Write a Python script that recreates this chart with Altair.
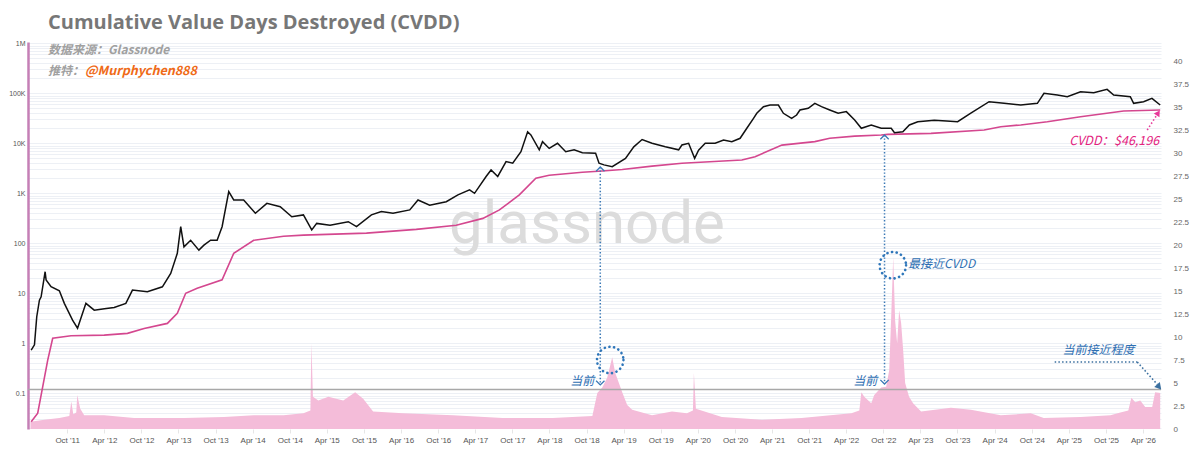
import altair as alt
import pandas as pd

# ---------------- data ----------------
# (decimal year, BTC price USD)
PRICE = [
    (2011.263, 0.73), (2011.307, 0.93), (2011.338, 3.4), (2011.374, 7.3), (2011.397, 8.5),
    (2011.451, 27), (2011.464, 18.5), (2011.531, 13.5), (2011.643, 11.2), (2011.71, 6.3),
    (2011.821, 2.9), (2011.888, 2.0), (2012.001, 6.3), (2012.113, 4.6), (2012.25, 4.9),
    (2012.381, 5.2), (2012.538, 6.3), (2012.627, 11.6), (2012.828, 10.7), (2013.03, 13.5),
    (2013.142, 25), (2013.231, 63), (2013.277, 215), (2013.321, 85), (2013.411, 115),
    (2013.522, 73), (2013.59, 92), (2013.68, 115), (2013.768, 115), (2013.835, 215),
    (2013.925, 1077), (2013.992, 735), (2014.126, 735), (2014.284, 398), (2014.439, 630),
    (2014.619, 540), (2014.775, 340), (2014.932, 370), (2015.044, 185), (2015.111, 250),
    (2015.291, 230), (2015.537, 270), (2015.648, 215), (2015.849, 370), (2015.983, 430),
    (2016.14, 400), (2016.365, 465), (2016.476, 735), (2016.633, 580), (2016.856, 680),
    (2017.013, 930), (2017.17, 1170), (2017.237, 1000), (2017.393, 2170), (2017.46, 2930),
    (2017.55, 2170), (2017.662, 4300), (2017.752, 4000), (2017.863, 6800), (2017.953, 17000),
    (2017.997, 14700), (2018.11, 7400), (2018.154, 10800), (2018.244, 7900), (2018.356, 10000),
    (2018.467, 6800), (2018.58, 7400), (2018.691, 6500), (2018.87, 6300), (2018.916, 4000),
    (2018.983, 3700), (2019.094, 3400), (2019.273, 5000), (2019.385, 8500), (2019.497, 11900),
    (2019.631, 10000), (2019.81, 8500), (2019.99, 7400), (2020.034, 9250), (2020.124, 10000),
    (2020.205, 5000), (2020.258, 7300), (2020.347, 10000), (2020.481, 10000), (2020.594, 11600),
    (2020.705, 10800), (2020.817, 12600), (2020.907, 20000), (2020.997, 31600), (2021.041, 39800),
    (2021.131, 54000), (2021.22, 58300), (2021.332, 58300), (2021.40, 39800), (2021.511, 31600),
    (2021.578, 36800), (2021.623, 46400), (2021.735, 50100), (2021.824, 63000), (2021.914, 54000),
    (2022.025, 46400), (2022.138, 39800), (2022.249, 43000), (2022.361, 29300), (2022.451, 20000),
    (2022.585, 23300), (2022.719, 20000), (2022.854, 20000), (2022.898, 16300), (2023.011, 17000),
    (2023.099, 23300), (2023.212, 27000), (2023.435, 29000), (2023.60, 28000), (2023.75, 27000),
    (2023.928, 40000), (2024.174, 68000), (2024.375, 63000), (2024.599, 58400), (2024.823, 63000),
    (2024.912, 100000), (2025.092, 92500), (2025.226, 85500), (2025.405, 107000), (2025.583, 103000),
    (2025.763, 120000), (2025.852, 92500), (2026.076, 85500), (2026.121, 63000), (2026.255, 68000),
    (2026.368, 79000), (2026.479, 58400),
]

# (decimal year, CVDD USD)
CVDD = [
    (2011.263, 0.027), (2011.351, 0.04), (2011.418, 0.135), (2011.486, 0.46), (2011.553, 1.26),
    (2011.80, 1.42), (2012.247, 1.46), (2012.56, 1.58), (2012.784, 1.98), (2013.097, 2.5),
    (2013.231, 4.0), (2013.344, 10), (2013.499, 12.6), (2013.835, 18.6), (2013.992, 63),
    (2014.261, 115), (2014.664, 138), (2014.932, 146), (2015.782, 160), (2016.453, 190),
    (2016.99, 230), (2017.349, 315), (2017.573, 465), (2017.841, 930), (2018.064, 2000),
    (2018.244, 2300), (2018.691, 2630), (2018.96, 2800), (2019.229, 3000), (2019.631, 3500),
    (2020.034, 4000), (2020.84, 4650), (2021.018, 5400), (2021.38, 9200), (2021.824, 10800),
    (2022.025, 12600), (2022.361, 13900), (2022.719, 14700), (2022.809, 15100), (2023.391, 15800),
    (2024.107, 18400), (2024.331, 21500), (2024.599, 23300), (2024.957, 27000), (2025.405, 34000),
    (2025.986, 44400), (2026.479, 46196),
]

# (decimal year, closeness ratio on right axis)
RATIO = [
    (2011.253, 0.8), (2011.441, 1.0), (2011.643, 1.2), (2011.777, 1.4), (2011.804, 3.0),
    (2011.831, 1.6), (2011.871, 1.8), (2011.884, 3.7), (2011.925, 2.2), (2011.978, 1.5),
    (2012.247, 1.5), (2012.65, 1.2), (2013.321, 1.2), (2013.858, 1.3), (2014.261, 1.5),
    (2014.664, 1.5), (2014.932, 1.7), (2015.026, 2.0), (2015.04, 9.3), (2015.06, 3.5),
    (2015.133, 3.1), (2015.268, 3.5), (2015.469, 3.1), (2015.63, 4.0), (2015.738, 3.3),
    (2015.872, 1.9), (2016.275, 1.7), (2016.946, 1.5), (2017.617, 1.2), (2018.289, 1.2),
    (2018.826, 1.4), (2018.893, 3.9), (2018.96, 4.5), (2019.027, 5.6), (2019.094, 7.8),
    (2019.135, 6.1), (2019.229, 4.0), (2019.296, 2.6), (2019.363, 2.1), (2019.631, 1.5),
    (2019.9, 1.9), (2020.101, 1.7), (2020.182, 2.0), (2020.195, 6.1), (2020.222, 2.2),
    (2020.571, 1.3), (2021.108, 1.0), (2021.645, 1.2), (2022.317, 1.7), (2022.424, 2.0),
    (2022.451, 4.0), (2022.491, 3.5), (2022.585, 2.8), (2022.625, 3.7), (2022.719, 4.5),
    (2022.786, 4.6), (2022.827, 6.4), (2022.854, 12.2), (2022.881, 18.7), (2022.907, 11.8),
    (2022.934, 9.3), (2022.961, 12.9), (2022.988, 11.5), (2023.015, 8.6), (2023.042, 5.0),
    (2023.095, 3.5), (2023.149, 2.8), (2023.257, 1.9), (2023.659, 2.3), (2023.928, 2.1),
    (2024.331, 1.5), (2024.734, 1.7), (2024.908, 1.2), (2025.405, 1.3), (2025.808, 1.5),
    (2025.942, 1.8), (2026.049, 2.0), (2026.09, 3.4), (2026.143, 2.9), (2026.21, 3.1),
    (2026.277, 2.4), (2026.371, 2.4), (2026.411, 4.0), (2026.479, 3.9),
]

THRESHOLD = 4.3

X_TICK_DATES = [f"{y}-{m:02d}-01" for y in range(2011, 2027) for m in (4, 10)
                if "2011-10-01" <= f"{y}-{m:02d}-01" <= "2026-04-01"]
LEFT_DECADES = [0.1, 1, 10, 100, 1000, 10000, 100000, 1000000]
LEFT_LABELS = ["0.1", "1", "10", "100", "1K", "10K", "100K", "1M"]
RIGHT_TICKS = [i * 2.5 for i in range(17)]

TITLE = "Cumulative Value Days Destroyed (CVDD)"
SOURCE = "数据来源：Glassnode"
TWITTER_LABEL = "推特："
TWITTER_HANDLE = "@Murphychen888"
WATERMARK = "glassnode"

# annotation anchors (decimal year, value)
CALLOUTS = [  # vertical dotted lines: year, price at top, value at bottom
    (2018.933, 3360, 0.147),
    (2022.764, 14660, 0.153),
]
CIRCLES = [(2019.067, 7.5), (2022.876, 17.8)]
NOW_TEXT = [(2018.853, 5.2, "当前"), (2022.666, 5.2, "当前")]
CLOSEST_TEXT = [(2023.082, 17.9, "最接近CVDD")]
CURRENT_TEXT = [(2025.647, 8.6, "当前接近程度")]
CURRENT_ARROW = [(2025.056, 7.28, 2026.17, 7.28), (2026.17, 7.28, 2026.44, 4.85)]
CURRENT_HEAD = [(2026.465, 4.57)]
CVDD_TEXT = [(2026.465, 11120, "CVDD：$46,196")]
CVDD_ARROW = [(2026.304, 18450, 2026.445, 39000)]
CVDD_HEAD = [(2026.452, 40400)]


def yr2ms(y):
    yi = int(y)
    a = pd.Timestamp(year=yi, month=1, day=1)
    b = pd.Timestamp(year=yi + 1, month=1, day=1)
    return int((a + (b - a) * (y - yi)).value // 10**6)


def frame(rows, cols):
    df = pd.DataFrame(rows, columns=cols)
    for c in cols:
        if c.startswith("yr"):
            df["d" + c[2:]] = df[c].map(yr2ms)
    return df


price_df = frame(PRICE, ["yr", "v"])
cvdd_df = frame(CVDD, ["yr", "v"])
ratio_df = frame(RATIO, ["yr", "v"])
ONE = pd.DataFrame({"k": [0]})

# ---------------- scales & axes ----------------
X_SCALE = alt.Scale(type="utc", domain=[yr2ms(2011.22), yr2ms(2026.49)])
LEFT_SCALE = alt.Scale(type="log", domain=[10 ** -1.714, 10 ** 6.026], nice=False)
RIGHT_SCALE = alt.Scale(domain=[0, 42.07], nice=False)

x_axis = alt.Axis(
    values=[pd.Timestamp(d).value // 10**6 for d in X_TICK_DATES],
    labelExpr="utcFormat(datum.value, \"%b '%y\")", title=None, grid=False, domain=False,
    ticks=True, tickColor="#e6e6e6", tickSize=4, labelPadding=3,
    labelFont="Liberation Sans", labelFontSize=8, labelColor="#555555",
)

minor = [m * 10 ** k for k in range(-2, 7) for m in range(1, 10)
         if 10 ** -1.714 <= m * 10 ** k <= 10 ** 6.026]
label_expr = " : ".join(f"datum.value == {v!r} ? '{l}'" for v, l in zip(LEFT_DECADES, LEFT_LABELS)) + " : ''"
left_axis = alt.Axis(
    orient="left", values=minor, labelExpr=label_expr, title=None,
    grid=True, gridColor="#edf0f5", gridWidth=1, ticks=False,
    domain=True, domainColor="#c57fb6", domainWidth=2.5,
    labelFont="Liberation Sans", labelFontSize=7, labelColor="#555555", labelPadding=3,
)
right_axis = alt.Axis(
    orient="right", values=RIGHT_TICKS, labelExpr="format(datum.value, '~f')", title=None, grid=False,
    ticks=False, domain=False, labelPadding=12,
    labelFont="Liberation Sans", labelFontSize=8, labelColor="#666666",
)


def X(field="d:T"):
    return alt.X(field, scale=X_SCALE, axis=x_axis, title=None)


def YL(field="v:Q"):
    return alt.Y(field, scale=LEFT_SCALE, axis=left_axis, title=None)


def YR(field="v:Q"):
    return alt.Y(field, scale=RIGHT_SCALE, axis=right_axis, title=None)


BLUE = "#2e76ba"

# ---------------- right (ratio) group ----------------
watermark = alt.Chart(ONE).mark_text(
    text=WATERMARK, font="Roboto", fontSize=60, color="#dcdcdc", align="center", baseline="alphabetic"
).encode(x=alt.value(559), y=alt.value(201))

area = alt.Chart(ratio_df).mark_area(color="#f4bcd9", interpolate="linear").encode(
    x=X(), y=YR()
)

threshold = alt.Chart(ONE).mark_rule(color="#a8a8a8", strokeWidth=1.5).encode(
    y=alt.YDatum(THRESHOLD, scale=RIGHT_SCALE, axis=right_axis, title=None)
)

circles = alt.Chart(frame(CIRCLES, ["yr", "v"])).mark_point(
    shape="circle", size=700, filled=False, color=BLUE, strokeWidth=2.6,
    strokeDash=[0.1, 4.6], strokeCap="round", opacity=1
).encode(x=X(), y=YR())

now_text = alt.Chart(frame(NOW_TEXT, ["yr", "v", "t"])).mark_text(
    align="right", baseline="middle", font="Noto Sans CJK SC", fontSize=12,
    fontStyle="italic", color="#2f6fb3"
).encode(x=X(), y=YR(), text="t:N")

closest_text = alt.Chart(frame(CLOSEST_TEXT, ["yr", "v", "t"])).mark_text(
    align="left", baseline="middle", font="Noto Sans CJK SC", fontSize=12,
    fontStyle="italic", color="#2f6fb3"
).encode(x=X(), y=YR(), text="t:N")

current_text = alt.Chart(frame(CURRENT_TEXT, ["yr", "v", "t"])).mark_text(
    align="center", baseline="middle", font="Noto Sans CJK SC", fontSize=12,
    fontStyle="italic", color="#2f6fb3"
).encode(x=X(), y=YR(), text="t:N")

current_arrow = alt.Chart(frame(CURRENT_ARROW, ["yr", "v", "yr2", "v2"])).mark_rule(
    color="#3a6f9f", strokeWidth=1.6, strokeDash=[1.5, 2.2]
).encode(x=X(), x2="d2:T", y=YR(), y2="v2:Q")

current_head = alt.Chart(frame(CURRENT_HEAD, ["yr", "v"])).mark_point(
    shape="triangle-up", size=55, filled=True, color="#3a6f9f", angle=139, opacity=1
).encode(x=X(), y=YR())

right_group = alt.layer(
    watermark, area, threshold, circles, now_text, closest_text, current_text,
    current_arrow, current_head
)

# ---------------- left (price, log) group ----------------
cvdd_line = alt.Chart(cvdd_df).mark_line(color="#d4478f", strokeWidth=1.6).encode(
    x=X(), y=YL()
)
price_line = alt.Chart(price_df).mark_line(color="#111111", strokeWidth=1.5).encode(
    x=X(), y=YL()
)

callout_df = frame(CALLOUTS, ["yr", "top", "bottom"])
callout_rules = alt.Chart(callout_df).mark_rule(
    color="#3a78b5", strokeWidth=1.5, strokeDash=[1.4, 2.0]
).encode(x=X(), y=YL("top:Q"), y2="bottom:Q")
up_heads = alt.Chart(callout_df).mark_point(
    shape="M-1,1L0,0L1,1", size=70, filled=False, color="#3a78b5", strokeWidth=1.3, opacity=1
).encode(x=X(), y=YL("top:Q"))
down_heads = alt.Chart(callout_df).mark_point(
    shape="M-1,-1L0,0L1,-1", size=70, filled=False, color="#3a78b5", strokeWidth=1.3, opacity=1
).encode(x=X(), y=YL("bottom:Q"))

cvdd_arrow = alt.Chart(frame(CVDD_ARROW, ["yr", "v", "yr2", "v2"])).mark_rule(
    color="#e8399a", strokeWidth=1.6, strokeDash=[1.5, 2.2]
).encode(x=X(), x2="d2:T", y=YL(), y2="v2:Q")
cvdd_head = alt.Chart(frame(CVDD_HEAD, ["yr", "v"])).mark_point(
    shape="triangle-up", size=45, filled=True, color="#e8399a", angle=33, opacity=1
).encode(x=X(), y=YL())
cvdd_text = alt.Chart(frame(CVDD_TEXT, ["yr", "v", "t"])).mark_text(
    align="right", baseline="middle", font="Noto Sans CJK SC", fontSize=12.5,
    fontStyle="italic", color="#e3237f"
).encode(x=X(), y=YL(), text="t:N")

title = alt.Chart(ONE).mark_text(
    text=TITLE, align="left", baseline="alphabetic", font="Open Sans", fontWeight="bold",
    fontSize=20, color="#777777"
).encode(x=alt.value(20), y=alt.value(-13))
source = alt.Chart(ONE).mark_text(
    text=SOURCE, align="left", baseline="middle", font="Noto Sans CJK SC", fontWeight="bold",
    fontStyle="italic", fontSize=12, color="#a0a0a0"
).encode(x=alt.value(20), y=alt.value(8))
tw_label = alt.Chart(ONE).mark_text(
    text=TWITTER_LABEL, align="left", baseline="middle", font="Noto Sans CJK SC", fontWeight="bold",
    fontStyle="italic", fontSize=12, color="#a0a0a0"
).encode(x=alt.value(20), y=alt.value(29))
tw_handle = alt.Chart(ONE).mark_text(
    text=TWITTER_HANDLE, align="left", baseline="middle", font="Noto Sans CJK SC", fontWeight="bold",
    fontStyle="italic", fontSize=12.5, color="#ef6a17"
).encode(x=alt.value(57), y=alt.value(29))

left_group = alt.layer(
    cvdd_line, price_line, callout_rules, up_heads, down_heads,
    cvdd_arrow, cvdd_head, cvdd_text, title, source, tw_label, tw_handle
)

chart = alt.layer(right_group, left_group).resolve_scale(y="independent").properties(
    width=1133, height=387,
    autosize=alt.AutoSizeParams(type="none"),
    padding={"left": 20, "top": 34, "right": 30, "bottom": 26},
    background="white",
).configure_view(stroke=None)

chart.save("out.html", embed_options={"renderer": "svg", "actions": False})
